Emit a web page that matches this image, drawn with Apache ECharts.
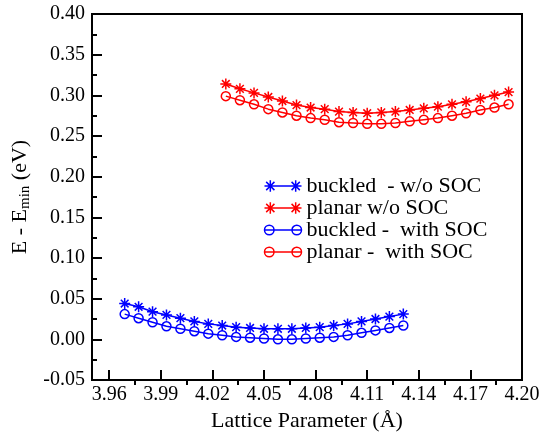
<!DOCTYPE html>
<html>
	<head>
		<meta charset="UTF-8">
		<title>lattice energy</title>
		<script src="https://cdn.jsdelivr.net/npm/echarts@6/dist/echarts.min.js"></script>
		<style type="text/css">
			body { margin: 0; background: #fff; }
			#main { width: 543px; height: 434px; }
		</style>
	</head>
	<body>
		<div id="main"></div>
		<script>
			// lattice parameters (A)
			var buckledA = [3.9690, 3.9771, 3.9852, 3.9933, 4.0014, 4.0095, 4.0176, 4.0257, 4.0338, 4.0419, 4.0500,
				4.0581, 4.0662, 4.0743, 4.0824, 4.0905, 4.0986, 4.1067, 4.1148, 4.1229, 4.1310];
			var planarA = [4.0278, 4.0360, 4.0442, 4.0525, 4.0607, 4.0689, 4.0771, 4.0853, 4.0936, 4.1018, 4.1100,
				4.1182, 4.1264, 4.1347, 4.1429, 4.1511, 4.1593, 4.1675, 4.1758, 4.1840, 4.1922];

			// E - Emin (eV)
			var buckledNoSoc = [0.044, 0.040, 0.034, 0.030, 0.026, 0.022, 0.019, 0.017, 0.015, 0.014, 0.013,
				0.013, 0.013, 0.014, 0.015, 0.017, 0.019, 0.022, 0.025, 0.028, 0.031];
			var planarNoSoc = [0.314, 0.308, 0.303, 0.298, 0.293, 0.288, 0.285, 0.283, 0.280, 0.279, 0.278,
				0.279, 0.280, 0.282, 0.284, 0.286, 0.289, 0.292, 0.296, 0.300, 0.304];
			var buckledSoc = [0.031, 0.026, 0.021, 0.016, 0.013, 0.010, 0.007, 0.005, 0.003, 0.002, 0.001,
				0.000, 0.000, 0.001, 0.002, 0.003, 0.005, 0.008, 0.011, 0.014, 0.017];
			var planarSoc = [0.299, 0.294, 0.289, 0.283, 0.279, 0.275, 0.272, 0.270, 0.267, 0.266, 0.265,
				0.265, 0.266, 0.268, 0.270, 0.272, 0.275, 0.278, 0.282, 0.285, 0.289];

			var xTicks = [3.96, 3.99, 4.02, 4.05, 4.08, 4.11, 4.14, 4.17, 4.20];
			var xMinorTicks = [3.975, 4.005, 4.035, 4.065, 4.095, 4.125, 4.155, 4.185];

			var names = ['buckled  - w/o SOC', 'planar w/o SOC', 'buckled -  with SOC', 'planar -  with SOC'];

			var font = 'Liberation Serif';
			var star = 'path://M5,0L5,10M0,5L10,5M1.5,1.5L8.5,8.5M8.5,1.5L1.5,8.5';
			var starIcon = 'path://M6,0.5L6,11.5M0.5,6L11.5,6M2.1,2.1L9.9,9.9M9.9,2.1L2.1,9.9M6,6L30,6' +
				'M30,0.5L30,11.5M24.5,6L35.5,6M26.1,2.1L33.9,9.9M33.9,2.1L26.1,9.9';
			var circleIcon = 'path://M0.5,6A4.5,4.5 0 1 1 9.5,6A4.5,4.5 0 1 1 0.5,6M0.5,6L35.5,6' +
				'M26.5,6A4.5,4.5 0 1 1 35.5,6A4.5,4.5 0 1 1 26.5,6M6,0.5L6,0.5M30,11.5L30,11.5';

			function pairs(xs, ys) {
				return xs.map(function (x, i) { return [x, ys[i]]; });
			}

			function makeSeries(name, xs, ys, color, isStar) {
				return {
					name: name,
					type: 'line',
					data: pairs(xs, ys),
					symbol: isStar ? star : 'circle',
					symbolSize: isStar ? 11 : 9,
					showAllSymbol: true,
					itemStyle: { color: 'none', borderColor: color, borderWidth: 1.5 },
					lineStyle: { color: color, width: 1.5 },
					emphasis: { disabled: true }
				};
			}

			var myChart = echarts.init(document.getElementById('main'));

			var option = {
				animation: false,
				grid: {
					left: 92, right: 21, top: 14, bottom: 54,
					outerBoundsMode: 'none',
					show: true, borderColor: '#000', borderWidth: 2
				},
				legend: {
					orient: 'vertical',
					left: 262,
					top: 175,
					padding: 0,
					itemWidth: 37,
					itemHeight: 12,
					itemGap: 0,
					textStyle: { fontFamily: font, fontSize: 22, color: '#000', lineHeight: 20 },
					data: [
						{ name: names[0], icon: starIcon, itemStyle: { color: 'none', borderColor: '#0000ff', borderWidth: 1.5 } },
						{ name: names[1], icon: starIcon, itemStyle: { color: 'none', borderColor: '#ff0000', borderWidth: 1.5 } },
						{ name: names[2], icon: circleIcon, itemStyle: { color: 'none', borderColor: '#0000ff', borderWidth: 1.5 } },
						{ name: names[3], icon: circleIcon, itemStyle: { color: 'none', borderColor: '#ff0000', borderWidth: 1.5 } }
					]
				},
				xAxis: [{
					type: 'value',
					min: 3.95,
					max: 4.20,
					name: 'Lattice Parameter (Å)',
					nameLocation: 'middle',
					nameGap: 19,
					nameTextStyle: { fontFamily: font, fontSize: 22, color: '#000' },
					axisLine: { onZero: false, lineStyle: { color: '#000', width: 2 } },
					axisTick: { inside: true, length: 10, customValues: xTicks, lineStyle: { color: '#000', width: 2 } },
					axisLabel: {
						customValues: xTicks,
						margin: 5,
						fontFamily: font, fontSize: 20, color: '#000',
						formatter: function (v) { return v.toFixed(2); }
					},
					splitLine: { show: false }
				}, {
					type: 'value',
					position: 'bottom',
					min: 3.95,
					max: 4.20,
					axisLine: { show: false, onZero: false },
					axisTick: { inside: false, length: 5, customValues: xMinorTicks, lineStyle: { color: '#000', width: 2 } },
					axisLabel: { show: false },
					splitLine: { show: false }
				}],
				yAxis: {
					type: 'value',
					min: -0.05,
					max: 0.40,
					interval: 0.05,
					name: '{a|E - E}{sub|min}{a| (eV)}',
					nameLocation: 'middle',
					nameRotate: 90,
					nameGap: 45,
					nameTextStyle: {
						fontFamily: font, fontSize: 22, color: '#000',
						rich: {
							a: { fontFamily: font, fontSize: 22, color: '#000' },
							sub: { fontFamily: font, fontSize: 15, color: '#000', verticalAlign: 'bottom', padding: [10, 0, 0, 0] }
						}
					},
					axisLine: { show: true, onZero: false, lineStyle: { color: '#000', width: 2 } },
					axisTick: { show: true, inside: true, length: 10, lineStyle: { color: '#000', width: 2 } },
					minorTick: { show: true, splitNumber: 2, length: 5, lineStyle: { color: '#000', width: 2 } },
					axisLabel: {
						margin: 7,
						fontFamily: font, fontSize: 20, color: '#000',
						formatter: function (v) { return v.toFixed(2); }
					},
					splitLine: { show: false }
				},
				series: [
					makeSeries(names[0], buckledA, buckledNoSoc, '#0000ff', true),
					makeSeries(names[1], planarA, planarNoSoc, '#ff0000', true),
					makeSeries(names[2], buckledA, buckledSoc, '#0000ff', false),
					makeSeries(names[3], planarA, planarSoc, '#ff0000', false)
				]
			};

			myChart.setOption(option);
		</script>
	</body>
</html>
